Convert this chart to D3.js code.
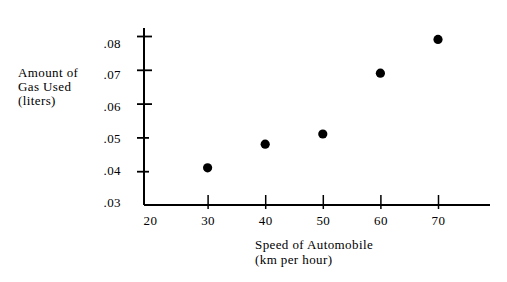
<!DOCTYPE html>
<html>
<head>
    <meta charset="utf-8" />
    <script src="https://d3js.org/d3.v7.min.js"></script>
    <style>
        body { margin: 0; background: #fff; }
        text { font-family: "Liberation Serif", "DejaVu Serif", serif; fill: #000; }
    </style>
</head>
<body>

<svg id="svg"></svg>

<script>

// data
let speeds = [30, 40, 50, 60, 70];
let gasUsed = [0.041, 0.048, 0.051, 0.069, 0.079];

let xTicks = [20, 30, 40, 50, 60, 70];
let yTicks = [0.03, 0.04, 0.05, 0.06, 0.07, 0.08];
let yTickLabels = [".03", ".04", ".05", ".06", ".07", ".08"];

let yTitle = ["Amount of", "Gas Used", "(liters)"];
let xTitle = ["Speed of Automobile", "(km per hour)"];

let realW = 507;
let realH = 282;

let svg = d3.select("#svg")
    .attr("width", realW)
    .attr("height", realH);

let x = d3.scaleLinear().domain([20, 70]).range([150, 438]);
let y = d3.scaleLinear().domain([0.03, 0.08]).range([205, 36]);
// labels in the original sit a bit off their ticks
let yLab = d3.scaleLinear().domain([0.03, 0.08]).range([202, 43]);

let originX = 144;
let originY = y(0.03);

// axis lines
svg.append("line")
    .attr("x1", originX).attr("x2", originX)
    .attr("y1", 28).attr("y2", originY)
    .attr("stroke", "#000").attr("stroke-width", 2);

svg.append("line")
    .attr("x1", originX).attr("x2", 490)
    .attr("y1", originY).attr("y2", originY)
    .attr("stroke", "#000").attr("stroke-width", 2);

// y ticks (cross the axis)
let yAxis = svg.append("g")
    .attr("transform", "translate(" + originX + ",0)")
    .call(d3.axisLeft(y).tickValues(yTicks.slice(1)).tickSize(7).tickFormat(""));
yAxis.select(".domain").remove();
yAxis.selectAll(".tick line")
    .attr("x1", d => d >= 0.06 ? 8 : 5)
    .attr("stroke", "#000")
    .attr("stroke-width", 1.8);

// y labels
let yLabAxis = svg.append("g")
    .attr("transform", "translate(121,0)")
    .call(d3.axisLeft(yLab).tickValues(yTicks).tickSize(0)
        .tickFormat((d, i) => yTickLabels[i]));
yLabAxis.select(".domain").remove();
yLabAxis.selectAll("text")
    .attr("x", 0)
    .style("font-family", "Liberation Serif")
    .style("font-size", "13px")
    .style("letter-spacing", "0.4px");

// x ticks
let xAxis = svg.append("g")
    .attr("transform", "translate(0," + originY + ")")
    .call(d3.axisBottom(x).tickValues(xTicks).tickSize(4)
        .tickFormat(d => d));
xAxis.select(".domain").remove();
xAxis.selectAll(".tick line")
    .attr("y1", -10)
    .attr("stroke", "#000")
    .attr("stroke-width", 1.5)
    .style("display", d => d === 20 ? "none" : null);
xAxis.selectAll("text")
    .attr("y", 20)
    .attr("dy", 0)
    .style("font-family", "Liberation Serif")
    .style("font-size", "13px")
    .style("letter-spacing", "0.4px");

// points
svg.selectAll(".dot")
    .data(speeds)
    .enter()
    .append("circle")
    .attr("class", "dot")
    .attr("cx", d => x(d))
    .attr("cy", (d, i) => y(gasUsed[i]))
    .attr("r", 4.6)
    .attr("fill", "#000");

// titles
svg.selectAll(".ytitle")
    .data(yTitle)
    .enter()
    .append("text")
    .attr("class", "ytitle")
    .attr("x", 18)
    .attr("y", (d, i) => 77 + i * 14)
    .style("font-size", "13px")
    .style("letter-spacing", "0.4px")
    .text(d => d);

svg.selectAll(".xtitle")
    .data(xTitle)
    .enter()
    .append("text")
    .attr("class", "xtitle")
    .attr("x", 255)
    .attr("y", (d, i) => 249 + i * 15)
    .style("font-size", "13px")
    .style("letter-spacing", "0.4px")
    .text(d => d);

</script>

</body>
</html>
